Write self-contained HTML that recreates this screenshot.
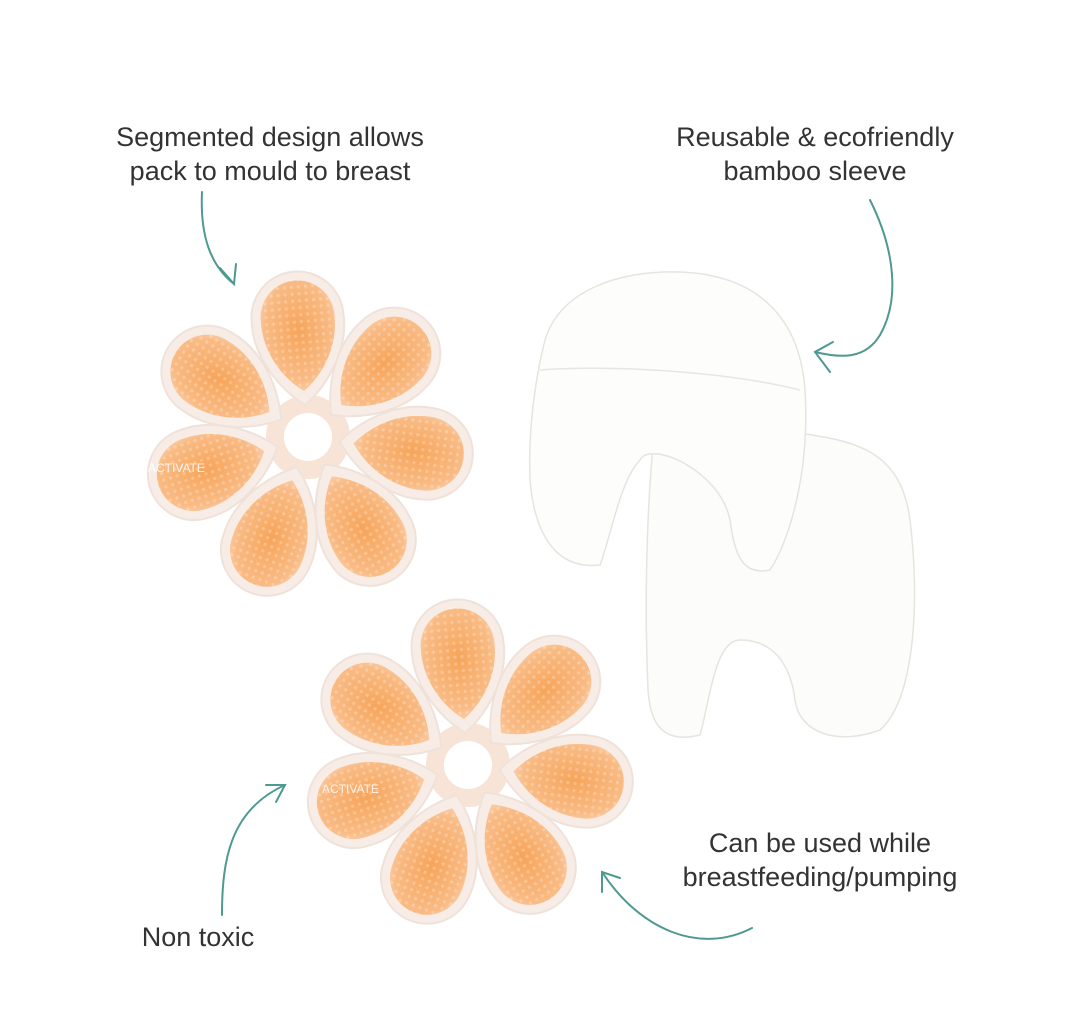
<!DOCTYPE html>
<html><head><meta charset="utf-8"><style>
html,body{margin:0;padding:0;background:#fff;}
.t{position:absolute;font-family:"Liberation Sans",sans-serif;font-size:27px;color:#333;text-align:center;line-height:34px;white-space:nowrap;}
</style></head><body>
<div style="position:relative;width:1080px;height:1012px;overflow:hidden;background:#fff">
<div class="t" style="left:70px;top:120px;width:400px">Segmented design allows<br>pack to mould to breast</div>
<div class="t" style="left:620px;top:120px;width:390px">Reusable &amp; ecofriendly<br>bamboo sleeve</div>
<div class="t" style="left:620px;top:826px;width:400px">Can be used while<br>breastfeeding/pumping</div>
<div class="t" style="left:98px;top:920px;width:200px">Non toxic</div>
<svg width="1080" height="1012" style="position:absolute;left:0;top:0">
<defs>
<radialGradient id="g" cx="0.5" cy="0.45" r="0.6"><stop offset="0" stop-color="#f7a55a"/><stop offset="0.75" stop-color="#f9bb85"/><stop offset="1" stop-color="#fbd3b3"/></radialGradient>
<pattern id="d" width="7" height="7" patternUnits="userSpaceOnUse"><circle cx="3.5" cy="3.5" r="1.6" fill="#fff" fill-opacity="0.25"/></pattern>
<g id="p">
<path d="M0,-32 C-30,-55 -48,-90 -46,-120 A46 46 0 0 1 46,-120 C48,-90 30,-55 0,-32Z" fill="#f8ede6" stroke="#eee2da" stroke-width="2"/>
<path d="M0,-46 C-24,-64 -38,-92 -37,-120 A37 37 0 0 1 37,-120 C38,-92 24,-64 0,-46Z" fill="url(#g)"/>
<path d="M0,-46 C-24,-64 -38,-92 -37,-120 A37 37 0 0 1 37,-120 C38,-92 24,-64 0,-46Z" fill="url(#d)"/>
</g>
<g id="f">
<circle r="42" fill="#f8e4d6"/>
<use href="#p" transform="rotate(-5)"/><use href="#p" transform="rotate(46)"/><use href="#p" transform="rotate(98)"/><use href="#p" transform="rotate(149)"/><use href="#p" transform="rotate(200)"/><use href="#p" transform="rotate(252)"/><use href="#p" transform="rotate(303)"/>
<circle r="24" fill="#fff"/>
</g>
</defs>
<use href="#f" transform="translate(308,437)"/>
<use href="#f" transform="translate(468,765)"/>
<text x="148" y="472" font-family="Liberation Sans" font-size="12" fill="#fff" fill-opacity="0.85">ACTIVATE</text>
<text x="322" y="793" font-family="Liberation Sans" font-size="12" fill="#fff" fill-opacity="0.85">ACTIVATE</text>
<!-- sleeves -->
<path d="M655,425 C660,400 720,420 780,430 C840,440 900,440 910,520 C920,600 915,700 880,730 C840,745 800,735 795,700 C790,660 770,640 740,640 C715,640 710,700 700,735 C660,745 650,720 648,690 C645,620 645,520 655,425Z" fill="#fcfcfa" stroke="#e6e4de" stroke-width="1.5"/>
<path d="M545,340 C560,290 620,270 680,272 C760,275 800,320 805,390 C810,470 790,540 770,570 C745,575 735,560 730,520 C720,470 650,440 640,460 C620,480 610,540 600,565 C560,570 535,540 530,480 C528,430 535,380 545,340Z" fill="#fdfdfc" stroke="#e6e4de" stroke-width="1.5"/>
<path d="M540,370 C600,365 720,370 800,390" fill="none" stroke="#e8e6e0" stroke-width="1.5"/>
<!-- arrows -->
<g fill="none" stroke="#4e9990" stroke-width="2" stroke-linecap="round">
<path d="M202,192 C200,235 210,265 234,284"/><path d="M220,268 L234,284 L236,264"/>
<path d="M870,200 C895,250 900,300 880,335 C865,360 840,358 815,352"/><path d="M833,342 L815,352 L830,372"/>
<path d="M222,915 C222,860 230,810 285,785"/><path d="M266,785 L285,785 L276,802"/>
<path d="M752,928 C700,955 640,930 602,872"/><path d="M602,892 L602,872 L620,878"/>
</g>
</svg>
</div>
</body></html>
